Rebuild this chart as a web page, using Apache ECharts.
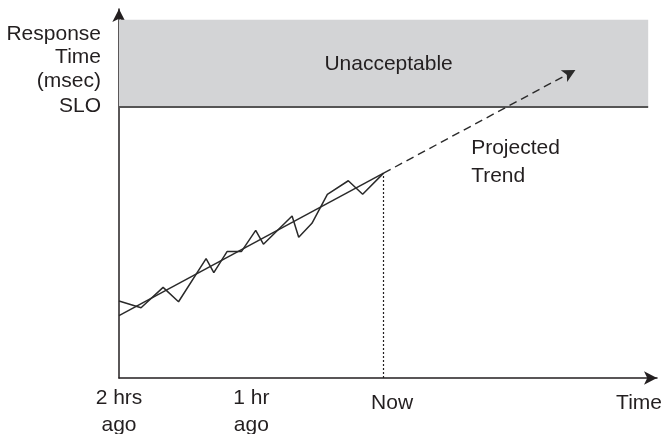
<!DOCTYPE html>
<html>
<head>
<meta charset="utf-8">
<script src="https://cdn.jsdelivr.net/npm/echarts@6/dist/echarts.min.js"></script>
<style>
  html, body { margin: 0; padding: 0; background: #fff; }
  #chart { width: 665px; height: 434px; }
</style>
</head>
<body>
<div id="chart"></div>
<script>
// Time in minutes relative to "now"; response time in arbitrary msec units (SLO = 100)
const timeMinutes   = [-120, -110, -100, -93, -80.5, -77, -71, -64.5, -58, -54.5, -41.5, -38.5, -32.5, -25.5, -16, -9.5, 0];
const responseTimes = [28.4, 25.9, 33.4, 28.1, 44.0, 38.8, 46.6, 46.6, 54.4, 49.3, 59.7, 51.9, 57.0, 67.7, 72.7, 67.7, 75.5];

// Fitted trend and its projection into the future
const trendStart = [-120, 23.0];
const trendNow = [0, 75.5];
const trendProjected = [87, 113.5];

// Service level objective and top of the unacceptable zone
const sloValue = 100;
const unacceptableTop = 132;
const unacceptableEnd = 120;

// Axis labels
const tickValues = [-120, -60, 0];
const tickLabels = ['2 hrs\nago', '1 hr\nago', 'Now'];
const yAxisTitle = 'Response\nTime\n(msec)';
const xAxisTitle = 'Time';
const sloLabel = 'SLO';
const zoneLabel = 'Unacceptable';
const projectionLabel = 'Projected\nTrend';

const FONT = '"Liberation Sans", Arial, Helvetica, sans-serif';
const INK = '#231f20';
const FS = 21;

const chart = echarts.init(document.getElementById('chart'), null, { renderer: 'canvas' });

const measured = timeMinutes.map((t, i) => [t, responseTimes[i]]);

chart.setOption({
  animation: false,
  backgroundColor: '#ffffff',
  textStyle: { fontFamily: FONT, color: INK },
  grid: { left: 119, right: 8, top: 9, bottom: 56, containLabel: false, outerBoundsMode: 'none' },
  xAxis: {
    type: 'value',
    min: -120,
    max: 124,
    name: xAxisTitle,
    nameLocation: 'end',
    nameGap: 5,
    nameTextStyle: {
      fontFamily: FONT, fontSize: FS, color: INK,
      align: 'right', verticalAlign: 'top', padding: [15, 0, 0, 0]
    },
    axisLine: {
      show: true,
      onZero: false,
      symbol: ['none', 'arrow'],
      symbolSize: [10, 13],
      lineStyle: { color: INK, width: 1.5 }
    },
    axisTick: { show: false },
    splitLine: { show: false },
    axisLabel: {
      customValues: tickValues,
      margin: 7,
      fontFamily: FONT,
      fontSize: FS,
      color: INK,
      lineHeight: 27,
      formatter: function (v) {
        const i = tickValues.indexOf(v);
        if (i < 0) return '';
        if (tickLabels[i] === 'Now') return '{now|Now}';
        return tickLabels[i];
      },
      rich: {
        now: { fontFamily: FONT, fontSize: FS, color: INK, padding: [10, 0, 0, 17] }
      }
    }
  },
  yAxis: {
    type: 'value',
    min: 0,
    max: 136,
    name: yAxisTitle,
    nameLocation: 'end',
    nameGap: -13,
    nameTextStyle: {
      fontFamily: FONT, fontSize: FS, color: INK,
      align: 'right', verticalAlign: 'top', lineHeight: 23.5,
      padding: [0, 18, 0, 0]
    },
    axisLine: {
      show: true,
      onZero: false,
      symbol: ['none', 'arrow'],
      symbolSize: [10, 13],
      lineStyle: { color: INK, width: 1.5 }
    },
    axisTick: { show: false },
    splitLine: { show: false },
    axisLabel: {
      customValues: [sloValue],
      margin: 18,
      fontFamily: FONT,
      fontSize: FS,
      color: INK,
      padding: [1, 0, 0, 0],
      formatter: function () { return sloLabel; }
    }
  },
  series: [
    {
      // Unacceptable zone above the SLO, plus the SLO boundary line
      type: 'line',
      data: [],
      silent: true,
      z: 1,
      markArea: {
        silent: true,
        itemStyle: { color: '#d3d4d6' },
        label: {
          show: true,
          position: 'inside',
          offset: [5, 1],
          fontFamily: FONT, fontSize: FS, color: INK,
          formatter: zoneLabel
        },
        data: [[{ coord: [-120, sloValue] }, { coord: [unacceptableEnd, unacceptableTop] }]]
      },
      markLine: {
        silent: true,
        symbol: ['none', 'none'],
        label: { show: false },
        lineStyle: { color: '#555555', width: 2, type: 'solid' },
        data: [[{ coord: [-120, sloValue] }, { coord: [unacceptableEnd, sloValue] }]]
      }
    },
    {
      // Measured response times
      type: 'line',
      data: measured,
      showSymbol: false,
      symbol: 'none',
      z: 3,
      lineStyle: { color: '#2a2a2a', width: 1.5 },
      markLine: {
        silent: true,
        symbol: ['none', 'none'],
        label: { show: false },
        lineStyle: { color: INK, width: 1.2, type: [2, 2] },
        data: [[{ coord: [trendNow[0], 0] }, { coord: trendNow }]]
      }
    },
    {
      // Linear trend up to now, then projected forward
      type: 'line',
      data: [trendStart, trendNow],
      showSymbol: false,
      symbol: 'none',
      z: 3,
      lineStyle: { color: '#2a2a2a', width: 1.5 },
      markLine: {
        silent: true,
        symbol: ['none', 'arrow'],
        symbolSize: [10, 13],
        label: { show: false },
        lineStyle: { color: '#2a2a2a', width: 1.4, type: [8, 5] },
        data: [[{ coord: trendNow }, { coord: trendProjected }]]
      },
      markPoint: {
        silent: true,
        symbol: 'circle',
        symbolSize: 0,
        label: {
          show: true,
          position: 'inside',
          align: 'left',
          verticalAlign: 'middle',
          lineHeight: 28,
          fontFamily: FONT, fontSize: FS, color: INK,
          formatter: projectionLabel
        },
        data: [{ coord: [39.7, 79.6] }]
      }
    }
  ]
});
</script>
</body>
</html>
